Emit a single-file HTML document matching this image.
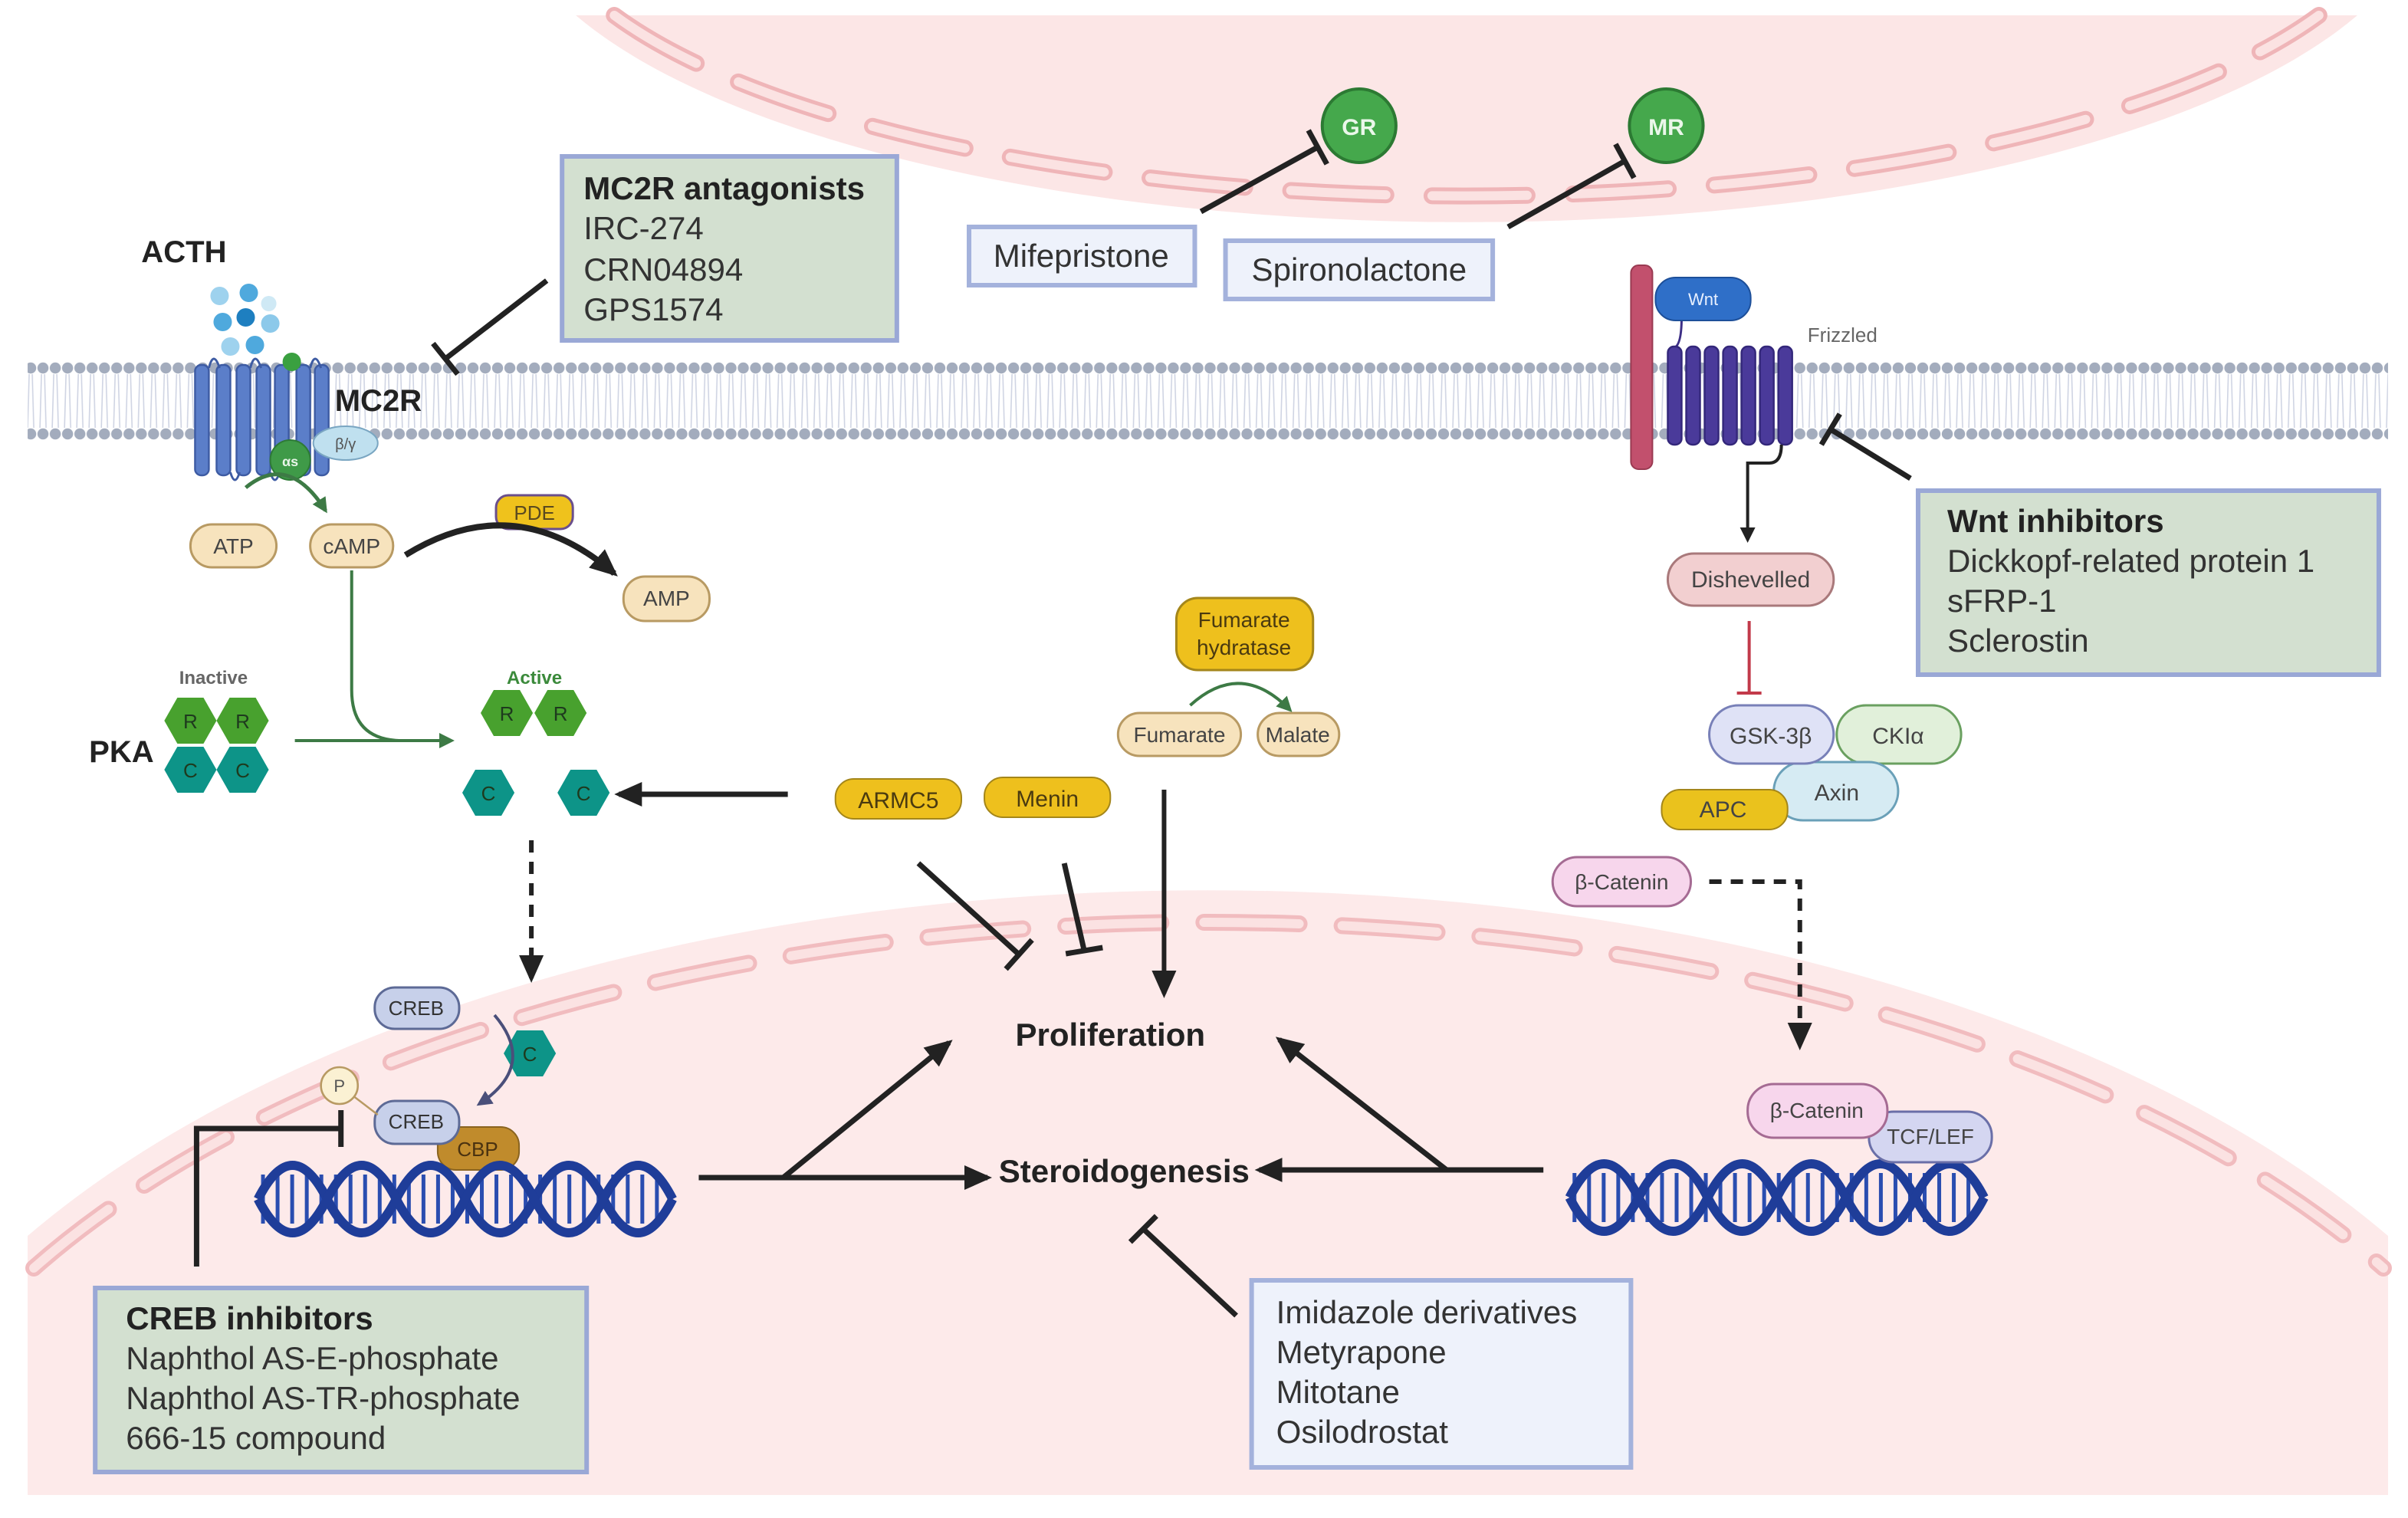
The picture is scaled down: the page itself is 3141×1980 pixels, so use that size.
<!DOCTYPE html>
<html><head><meta charset="utf-8"><style>
html,body{margin:0;padding:0;background:#fff;width:3141px;height:1980px;overflow:hidden;}
svg{display:block;font-family:"Liberation Sans",sans-serif;}
</style></head><body>
<svg width="3141" height="1980" viewBox="0 0 1568 990" preserveAspectRatio="none" xmlns="http://www.w3.org/2000/svg">
<defs>
<pattern id="mem" x="0" y="0" width="8" height="990" patternUnits="userSpaceOnUse">
<line x1="3" y1="244" x2="2" y2="279" stroke="#cfd4e3" stroke-width="0.8"/>
<line x1="5" y1="244" x2="6" y2="279" stroke="#cfd4e3" stroke-width="0.8"/>
<circle cx="4" cy="240" r="3.6" fill="#a3acbd"/>
<circle cx="4" cy="283" r="3.6" fill="#a3acbd"/>
</pattern>
<polygon id="hex" points="17,0 8.5,15 -8.5,15 -17,0 -8.5,-15 8.5,-15"/>
<marker id="ah" markerWidth="10" markerHeight="10" refX="8" refY="5" orient="auto" markerUnits="userSpaceOnUse"><path d="M0,0 L10,5 L0,10 z" fill="#222"/></marker>
<marker id="ahb" markerWidth="18" markerHeight="16" refX="15" refY="8" orient="auto" markerUnits="userSpaceOnUse"><path d="M0,0 L18,8 L0,16 z" fill="#222"/></marker>
<marker id="ahg" markerWidth="10" markerHeight="10" refX="8" refY="5" orient="auto" markerUnits="userSpaceOnUse"><path d="M0,0 L10,5 L0,10 z" fill="#3d7a45"/></marker>
<marker id="ahp" markerWidth="10" markerHeight="10" refX="8" refY="5" orient="auto" markerUnits="userSpaceOnUse"><path d="M0,0 L10,5 L0,10 z" fill="#4a4f7a"/></marker>
</defs>

<!-- top cell -->
<path d="M375 10 A625 215 0 0 0 1535 10 Z" fill="#fce6e6"/>
<path d="M400 10 A607 198 0 0 0 1510 10" fill="none" stroke="#efb5b8" stroke-width="11" stroke-linecap="round" stroke-dasharray="62 30"/>
<path d="M400 10 A607 198 0 0 0 1510 10" fill="none" stroke="#fbe2e2" stroke-width="6" stroke-linecap="round" stroke-dasharray="62 30"/>
<!-- nucleus -->
<path d="M18 806 A900 470 0 0 1 1555 806 L1555 975 L18 975 Z" fill="#fdeaea"/>
<path d="M22 827 A884 452 0 0 1 1552 827" fill="none" stroke="#f1bcbf" stroke-width="11" stroke-linecap="round" stroke-dasharray="62 28"/>
<path d="M22 827 A884 452 0 0 1 1552 827" fill="none" stroke="#fbe2e2" stroke-width="6" stroke-linecap="round" stroke-dasharray="62 28"/>

<rect x="18" y="234" width="1537" height="54" fill="url(#mem)"/>

<rect x="366" y="102" width="218" height="120" fill="#d3e0d0" stroke="#9aa8d6" stroke-width="3"/>
<text x="380" y="130" font-size="21" font-weight="bold" fill="#222">MC2R antagonists</text>
<text x="380" y="156" font-size="21" fill="#333">IRC-274</text>
<text x="380" y="183" font-size="21" fill="#333">CRN04894</text>
<text x="380" y="209" font-size="21" fill="#333">GPS1574</text>
<line x1="356" y1="183" x2="290" y2="234" stroke="#222" stroke-width="3.5"/>
<line x1="282" y1="224" x2="298" y2="244" stroke="#222" stroke-width="3.5"/>

<text x="92" y="171" font-size="20" font-weight="bold" fill="#222">ACTH</text>
<g>
<circle cx="143" cy="193" r="6" fill="#9ed2ee"/><circle cx="162" cy="191" r="6" fill="#4fa9dd"/><circle cx="175" cy="198" r="5" fill="#cfe9f5"/>
<circle cx="145" cy="210" r="6" fill="#4fa9dd"/><circle cx="160" cy="207" r="6" fill="#1e7fc0"/><circle cx="176" cy="211" r="6" fill="#8cc9ea"/>
<circle cx="150" cy="226" r="6" fill="#9ed2ee"/><circle cx="166" cy="225" r="6" fill="#4fa9dd"/>
</g>
<g fill="#5b7ec9" stroke="#3d5ba3" stroke-width="1.2">
<rect x="127" y="238" width="9" height="72" rx="4"/><rect x="141" y="238" width="9" height="72" rx="4"/>
<rect x="154" y="238" width="9" height="72" rx="4"/><rect x="167" y="238" width="9" height="72" rx="4"/>
<rect x="179" y="238" width="9" height="72" rx="4"/><rect x="193" y="238" width="9" height="72" rx="4"/>
<rect x="205" y="238" width="9" height="72" rx="4"/>
</g>
<path d="M136 240 q3 -12 7 0 M163 240 q3 -12 7 0 M188 240 q3 -12 7 0 M202 240 q3 -12 7 0 M150 308 q3 10 6 0 M176 308 q3 10 6 0" fill="none" stroke="#3d5ba3" stroke-width="1.5"/>
<circle cx="190" cy="236" r="6" fill="#3aa040"/>
<text x="218" y="268" font-size="20" font-weight="bold" fill="#222">MC2R</text>
<ellipse cx="225" cy="289" rx="21" ry="11" fill="#bfe0ef" stroke="#7aa6c2" stroke-width="1"/>
<text x="225" y="293" font-size="10" fill="#555" text-anchor="middle">β/γ</text>
<circle cx="189" cy="300" r="13" fill="#3f9a48" stroke="#2e7a36" stroke-width="1"/>
<text x="189" y="304" font-size="9" fill="#e8f5e8" text-anchor="middle" font-weight="bold">αs</text>
<path d="M160 318 Q188 295 212 333" fill="none" stroke="#3d7a45" stroke-width="2.5" marker-end="url(#ahg)"/>

<g stroke="#b89a63" stroke-width="1.5" fill="#f7e3bd">
<rect x="124" y="342" width="56" height="28" rx="14"/>
<rect x="202" y="342" width="54" height="28" rx="14"/>
<rect x="406" y="376" width="56" height="29" rx="14"/>
</g>
<rect x="323" y="323" width="50" height="22" rx="8" fill="#efc21c" stroke="#6a4f8d" stroke-width="1.5"/>
<text x="152" y="361" font-size="14" fill="#444" text-anchor="middle">ATP</text>
<text x="229" y="361" font-size="14" fill="#444" text-anchor="middle">cAMP</text>
<text x="434" y="395" font-size="14" fill="#444" text-anchor="middle">AMP</text>
<text x="348" y="339" font-size="13" fill="#5a4a20" text-anchor="middle">PDE</text>
<path d="M264 362 Q335 318 400 374" fill="none" stroke="#222" stroke-width="4" marker-end="url(#ahb)"/>
<path d="M229 372 L229 450 Q229 483 262 483 L292 483" fill="none" stroke="#3d7a45" stroke-width="2"/>
<line x1="192" y1="483" x2="294" y2="483" stroke="#3d7a45" stroke-width="2" marker-end="url(#ahg)"/>

<text x="139" y="446" font-size="12" fill="#666" text-anchor="middle" font-weight="bold">Inactive</text>
<text x="348" y="446" font-size="12" fill="#3b8a3b" text-anchor="middle" font-weight="bold">Active</text>
<text x="58" y="497" font-size="20" font-weight="bold" fill="#222">PKA</text>
<g fill="#48a12e"><use href="#hex" x="124" y="470"/><use href="#hex" x="158" y="470"/><use href="#hex" x="330" y="465"/><use href="#hex" x="365" y="465"/></g>
<g fill="#0d9488"><use href="#hex" x="124" y="502"/><use href="#hex" x="158" y="502"/><use href="#hex" x="318" y="517"/><use href="#hex" x="380" y="517"/><use href="#hex" x="345" y="687"/></g>
<g font-size="13" fill="#1e3a1e" text-anchor="middle">
<text x="124" y="475">R</text><text x="158" y="475">R</text><text x="330" y="470">R</text><text x="365" y="470">R</text>
<text x="124" y="507">C</text><text x="158" y="507">C</text><text x="318" y="522">C</text><text x="380" y="522">C</text><text x="345" y="692">C</text>
</g>
<line x1="513" y1="518" x2="403" y2="518" stroke="#222" stroke-width="3.5" marker-end="url(#ahb)"/>
<line x1="346" y1="548" x2="346" y2="638" stroke="#222" stroke-width="3" stroke-dasharray="8 6" marker-end="url(#ahb)"/>

<rect x="244" y="644" width="55" height="27" rx="13" fill="#c7d0ea" stroke="#5d6a96" stroke-width="1.5"/>
<path d="M322 662 Q350 695 312 720" fill="none" stroke="#4a4f7a" stroke-width="2" marker-end="url(#ahp)"/>
<rect x="285" y="735" width="53" height="28" rx="12" fill="#c08b2c" stroke="#8a6420" stroke-width="1"/>
<text x="311" y="754" font-size="13" fill="#4a3210" text-anchor="middle">CBP</text>
<rect x="244" y="718" width="55" height="28" rx="13" fill="#c7d0ea" stroke="#5d6a96" stroke-width="1.5"/>
<line x1="229" y1="714" x2="246" y2="727" stroke="#b89a63" stroke-width="1.2"/>
<circle cx="221" cy="708" r="12" fill="#fbf1d3" stroke="#b89a63" stroke-width="1.3"/>
<text x="221" y="712" font-size="11" fill="#555" text-anchor="middle">P</text>
<text x="271" y="662" font-size="13" fill="#333" text-anchor="middle">CREB</text>
<text x="271" y="736" font-size="13" fill="#333" text-anchor="middle">CREB</text>
<path d="M128 826 L128 736 L222 736" fill="none" stroke="#222" stroke-width="3.5"/>
<line x1="222" y1="724" x2="222" y2="748" stroke="#222" stroke-width="3.5"/>

<line x1="170" y1="782" x2="433" y2="782" stroke="#2a4db0" stroke-width="32" stroke-dasharray="2.5 7"/>
<g fill="none" stroke="#1f3d99" stroke-width="6">
<path d="M168 782 q22.5 -44 45 0 t45 0 t45 0 t45 0 t45 0 t45 0"/>
<path d="M168 782 q22.5 44 45 0 t45 0 t45 0 t45 0 t45 0 t45 0"/>
</g>
<line x1="1024" y1="781" x2="1288" y2="781" stroke="#2a4db0" stroke-width="32" stroke-dasharray="2.5 7"/>
<g fill="none" stroke="#1f3d99" stroke-width="6">
<path d="M1022 781 q22.5 -44 45 0 t45 0 t45 0 t45 0 t45 0 t45 0"/>
<path d="M1022 781 q22.5 44 45 0 t45 0 t45 0 t45 0 t45 0 t45 0"/>
</g>

<rect x="62" y="840" width="320" height="120" fill="#d3e0d0" stroke="#9aa8d6" stroke-width="3"/>
<text x="82" y="867" font-size="21" font-weight="bold" fill="#222">CREB inhibitors</text>
<text x="82" y="893" font-size="21" fill="#333">Naphthol AS-E-phosphate</text>
<text x="82" y="919" font-size="21" fill="#333">Naphthol AS-TR-phosphate</text>
<text x="82" y="945" font-size="21" fill="#333">666-15 compound</text>

<rect x="631" y="148" width="147" height="38" fill="#eef2fb" stroke="#a4b2dc" stroke-width="3"/>
<text x="704" y="174" font-size="21" fill="#333" text-anchor="middle">Mifepristone</text>
<rect x="798" y="157" width="174" height="38" fill="#eef2fb" stroke="#a4b2dc" stroke-width="3"/>
<text x="885" y="183" font-size="21" fill="#333" text-anchor="middle">Spironolactone</text>
<circle cx="885" cy="82" r="24" fill="#45a84c" stroke="#2c7a33" stroke-width="2"/>
<text x="885" y="88" font-size="15" font-weight="bold" fill="#eaf7ea" text-anchor="middle">GR</text>
<circle cx="1085" cy="82" r="24" fill="#45a84c" stroke="#2c7a33" stroke-width="2"/>
<text x="1085" y="88" font-size="15" font-weight="bold" fill="#eaf7ea" text-anchor="middle">MR</text>
<line x1="782" y1="138" x2="858" y2="96" stroke="#222" stroke-width="3.5"/>
<line x1="852" y1="85" x2="864" y2="107" stroke="#222" stroke-width="3.5"/>
<line x1="982" y1="148" x2="1058" y2="105" stroke="#222" stroke-width="3.5"/>
<line x1="1052" y1="94" x2="1064" y2="116" stroke="#222" stroke-width="3.5"/>

<rect x="1062" y="173" width="14" height="133" rx="5" fill="#c2506d" stroke="#9a3a52" stroke-width="1"/>
<path d="M1095 207 q0 20 -6 20" fill="none" stroke="#3d2f86" stroke-width="1.5"/>
<g fill="#4a3a9a" stroke="#33277a" stroke-width="1.2">
<rect x="1086" y="226" width="9" height="64" rx="4"/><rect x="1098" y="226" width="9" height="64" rx="4"/>
<rect x="1110" y="226" width="9" height="64" rx="4"/><rect x="1122" y="226" width="9" height="64" rx="4"/>
<rect x="1134" y="226" width="9" height="64" rx="4"/><rect x="1146" y="226" width="9" height="64" rx="4"/>
<rect x="1158" y="226" width="9" height="64" rx="4"/>
</g>
<path d="M1160 290 q0 12 -8 12 l-14 0 l0 50" fill="none" stroke="#222" stroke-width="2" marker-end="url(#ah)"/>
<rect x="1078" y="181" width="62" height="28" rx="13" fill="#2f6fc8" stroke="#1d4f99" stroke-width="1"/>
<text x="1109" y="199" font-size="11" fill="#e8f0ff" text-anchor="middle">Wnt</text>
<text x="1177" y="223" font-size="13" fill="#666">Frizzled</text>
<line x1="1244" y1="312" x2="1192" y2="280" stroke="#222" stroke-width="3.5"/>
<line x1="1186" y1="290" x2="1198" y2="270" stroke="#222" stroke-width="3.5"/>

<rect x="1249" y="320" width="300" height="120" fill="#d3e0d0" stroke="#9aa8d6" stroke-width="3"/>
<text x="1268" y="347" font-size="21" font-weight="bold" fill="#222">Wnt inhibitors</text>
<text x="1268" y="373" font-size="21" fill="#333">Dickkopf-related protein 1</text>
<text x="1268" y="399" font-size="21" fill="#333">sFRP-1</text>
<text x="1268" y="425" font-size="21" fill="#333">Sclerostin</text>

<rect x="1086" y="361" width="108" height="34" rx="17" fill="#f2cfd0" stroke="#a9797b" stroke-width="1.5"/>
<text x="1140" y="383" font-size="15" fill="#444" text-anchor="middle">Dishevelled</text>
<line x1="1139" y1="405" x2="1139" y2="452" stroke="#c23a4a" stroke-width="2"/>
<line x1="1131" y1="452" x2="1147" y2="452" stroke="#c23a4a" stroke-width="2"/>

<rect x="1196" y="460" width="81" height="38" rx="19" fill="#e1f0da" stroke="#6aa060" stroke-width="1.5"/>
<rect x="1155" y="497" width="81" height="38" rx="19" fill="#d6ebf3" stroke="#6aa0b8" stroke-width="1.5"/>
<rect x="1113" y="460" width="81" height="38" rx="19" fill="#dfe2f6" stroke="#7880b8" stroke-width="1.5"/>
<rect x="1082" y="515" width="82" height="26" rx="12" fill="#eac21d" stroke="#a4861a" stroke-width="1"/>
<text x="1153" y="485" font-size="15" fill="#444" text-anchor="middle">GSK-3β</text>
<text x="1236" y="485" font-size="15" fill="#444" text-anchor="middle">CKIα</text>
<text x="1196" y="522" font-size="15" fill="#444" text-anchor="middle">Axin</text>
<text x="1122" y="533" font-size="15" fill="#444" text-anchor="middle">APC</text>

<rect x="1011" y="559" width="90" height="32" rx="16" fill="#f7d6ec" stroke="#a56b93" stroke-width="1.5"/>
<text x="1056" y="580" font-size="14" fill="#444" text-anchor="middle">β-Catenin</text>
<path d="M1113 575 L1172 575 L1172 682" fill="none" stroke="#222" stroke-width="3" stroke-dasharray="8 6" marker-end="url(#ahb)"/>

<rect x="1217" y="725" width="80" height="33" rx="16" fill="#d4d6f1" stroke="#6a6fa8" stroke-width="1.5"/>
<text x="1257" y="746" font-size="14" fill="#444" text-anchor="middle">TCF/LEF</text>
<rect x="1138" y="707" width="91" height="35" rx="17" fill="#f7d6ec" stroke="#a56b93" stroke-width="1.5"/>
<text x="1183" y="729" font-size="14" fill="#444" text-anchor="middle">β-Catenin</text>

<rect x="766" y="390" width="89" height="47" rx="14" fill="#eec01d" stroke="#a4861a" stroke-width="1.5"/>
<text x="810" y="409" font-size="14" fill="#4a3a10" text-anchor="middle">Fumarate</text>
<text x="810" y="427" font-size="14" fill="#4a3a10" text-anchor="middle">hydratase</text>
<path d="M775 460 Q808 430 840 463" fill="none" stroke="#3d7a45" stroke-width="2" marker-end="url(#ahg)"/>
<rect x="728" y="465" width="80" height="28" rx="14" fill="#f7e3bd" stroke="#b89a63" stroke-width="1.5"/>
<rect x="819" y="465" width="53" height="28" rx="14" fill="#f7e3bd" stroke="#b89a63" stroke-width="1.5"/>
<text x="768" y="484" font-size="14" fill="#444" text-anchor="middle">Fumarate</text>
<text x="845" y="484" font-size="14" fill="#444" text-anchor="middle">Malate</text>

<rect x="544" y="508" width="82" height="26" rx="12" fill="#eec01d" stroke="#a4861a" stroke-width="1"/>
<text x="585" y="527" font-size="15" fill="#4a3a10" text-anchor="middle">ARMC5</text>
<rect x="641" y="507" width="82" height="26" rx="12" fill="#eec01d" stroke="#a4861a" stroke-width="1"/>
<text x="682" y="526" font-size="15" fill="#4a3a10" text-anchor="middle">Menin</text>

<line x1="598" y1="563" x2="663" y2="622" stroke="#222" stroke-width="3.5"/>
<line x1="655" y1="632" x2="672" y2="613" stroke="#222" stroke-width="3.5"/>
<line x1="693" y1="563" x2="706" y2="620" stroke="#222" stroke-width="3.5"/>
<line x1="694" y1="622" x2="718" y2="618" stroke="#222" stroke-width="3.5"/>
<line x1="758" y1="515" x2="758" y2="648" stroke="#222" stroke-width="3" marker-end="url(#ahb)"/>

<text x="723" y="682" font-size="21" font-weight="bold" fill="#222" text-anchor="middle">Proliferation</text>
<text x="732" y="771" font-size="21" font-weight="bold" fill="#222" text-anchor="middle">Steroidogenesis</text>

<line x1="455" y1="768" x2="643" y2="768" stroke="#222" stroke-width="3.5" marker-end="url(#ahb)"/>
<line x1="510" y1="768" x2="618" y2="680" stroke="#222" stroke-width="3.5" marker-end="url(#ahb)"/>
<line x1="1005" y1="763" x2="820" y2="763" stroke="#222" stroke-width="3.5" marker-end="url(#ahb)"/>
<line x1="942" y1="763" x2="833" y2="678" stroke="#222" stroke-width="3.5" marker-end="url(#ahb)"/>
<line x1="805" y1="858" x2="745" y2="802" stroke="#222" stroke-width="3.5"/>
<line x1="736" y1="810" x2="753" y2="793" stroke="#222" stroke-width="3.5"/>

<rect x="815" y="835" width="247" height="122" fill="#eef2fb" stroke="#a4b2dc" stroke-width="3"/>
<text x="831" y="863" font-size="21" fill="#333">Imidazole derivatives</text>
<text x="831" y="889" font-size="21" fill="#333">Metyrapone</text>
<text x="831" y="915" font-size="21" fill="#333">Mitotane</text>
<text x="831" y="941" font-size="21" fill="#333">Osilodrostat</text>
</svg>
</body></html>
